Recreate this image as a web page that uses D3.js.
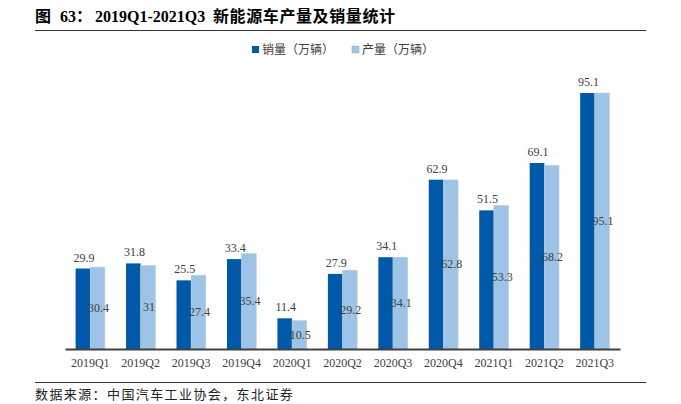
<!DOCTYPE html>
<html>
<head>
<meta charset="utf-8">
<script src="https://cdn.jsdelivr.net/npm/d3@7"></script>
<style>
  body { margin: 0; background: #fff; }
  text { font-family: "Liberation Serif", "Noto Sans CJK SC", serif; }
</style>
</head>
<body>
<svg id="chart" width="681" height="404"></svg>
<script>
const quarters = ["2019Q1", "2019Q2", "2019Q3", "2019Q4", "2020Q1", "2020Q2",
  "2020Q3", "2020Q4", "2021Q1", "2021Q2", "2021Q3"];
const sales = [29.9, 31.8, 25.5, 33.4, 11.4, 27.9, 34.1, 62.9, 51.5, 69.1, 95.1];
const output = [30.4, 31, 27.4, 35.4, 10.5, 29.2, 34.1, 62.8, 53.3, 68.2, 95.1];
const seriesNames = ["销量（万辆）", "产量（万辆）"];

const svg = d3.select("#chart");
const colors = ["#0058a8", "#9dc3e6"];

// title, pieces placed one by one to match the spacing
const title = svg.append("text")
  .attr("y", 22)
  .attr("font-size", 16).attr("font-weight", "bold")
  .attr("fill", "#000");
title.append("tspan").attr("x", 35).text("图");
title.append("tspan").attr("x", 60).text("63：");
title.append("tspan").attr("x", 95).text("2019Q1-2021Q3");
title.append("tspan").attr("x", 213).attr("letter-spacing", 0.6).text("新能源车产量及销量统计");
svg.append("line")
  .attr("x1", 35).attr("x2", 646).attr("y1", 30.5).attr("y2", 30.5)
  .attr("stroke", "#333").attr("stroke-width", 1);

// footer
svg.append("line")
  .attr("x1", 35).attr("x2", 646).attr("y1", 382.5).attr("y2", 382.5)
  .attr("stroke", "#333").attr("stroke-width", 1);
svg.append("text")
  .attr("x", 35).attr("y", 399)
  .attr("font-size", 13).attr("fill", "#222")
  .attr("letter-spacing", 1.4)
  .text("数据来源：中国汽车工业协会，东北证券");

const x = d3.scaleBand().domain(quarters).range([65, 620]).paddingInner(0.42).paddingOuter(0.21);
const sub = d3.scaleBand().domain([0, 1]).range([0, x.bandwidth()]);
const y = d3.scaleLinear().domain([0, 95.1]).range([349, 93]);

const g = svg.append("g");
const groups = g.selectAll("g.q")
  .data(quarters.map((q, i) => ({ q, vals: [sales[i], output[i]] })))
  .join("g")
  .attr("transform", d => `translate(${x(d.q)},0)`);

groups.selectAll("rect")
  .data(d => d.vals.map((v, k) => ({ v, k })))
  .join("rect")
  .attr("x", d => sub(d.k))
  .attr("width", sub.bandwidth())
  .attr("y", d => y(d.v))
  .attr("height", d => y(0) - y(d.v))
  .attr("fill", d => colors[d.k])
  .attr("stroke", d => d.k === 1 ? "#b8c8d8" : "none")
  .attr("stroke-width", 0.6);

// sales labels above dark bars
groups.append("text")
  .attr("x", sub(0) + sub.bandwidth() / 2 + 1)
  .attr("y", d => y(d.vals[0]) - 7)
  .attr("text-anchor", "middle")
  .attr("font-size", 12).attr("fill", "#404040")
  .text(d => d.vals[0]);

// output labels mid light bars
groups.append("text")
  .attr("x", sub(1) + sub.bandwidth() / 2 + 1)
  .attr("y", d => (y(d.vals[1]) + y(0)) / 2 + 4)
  .attr("text-anchor", "middle")
  .attr("font-size", 12).attr("fill", "#404040")
  .text(d => d.vals[1]);

// axis
const ax = svg.append("g")
  .attr("transform", "translate(0,349)")
  .call(d3.axisBottom(x).tickSize(0).tickPadding(9));
ax.select(".domain").attr("stroke", "#404040").attr("stroke-width", 2);
ax.selectAll("text").attr("font-size", 12).attr("fill", "#404040")
  .attr("font-family", "Liberation Serif");

// legend
const legend = svg.append("g");
const legX = [252, 352];
seriesNames.forEach((n, k) => {
  legend.append("rect")
    .attr("x", legX[k]).attr("y", 46).attr("width", 7).attr("height", 7)
    .attr("fill", colors[k])
    .attr("stroke", k === 1 ? "#9ab" : "none").attr("stroke-width", 0.5);
  legend.append("text")
    .attr("x", legX[k] + 10).attr("y", 54)
    .attr("font-size", 12).attr("fill", "#404040")
    .text(n);
});
</script>
</body>
</html>
